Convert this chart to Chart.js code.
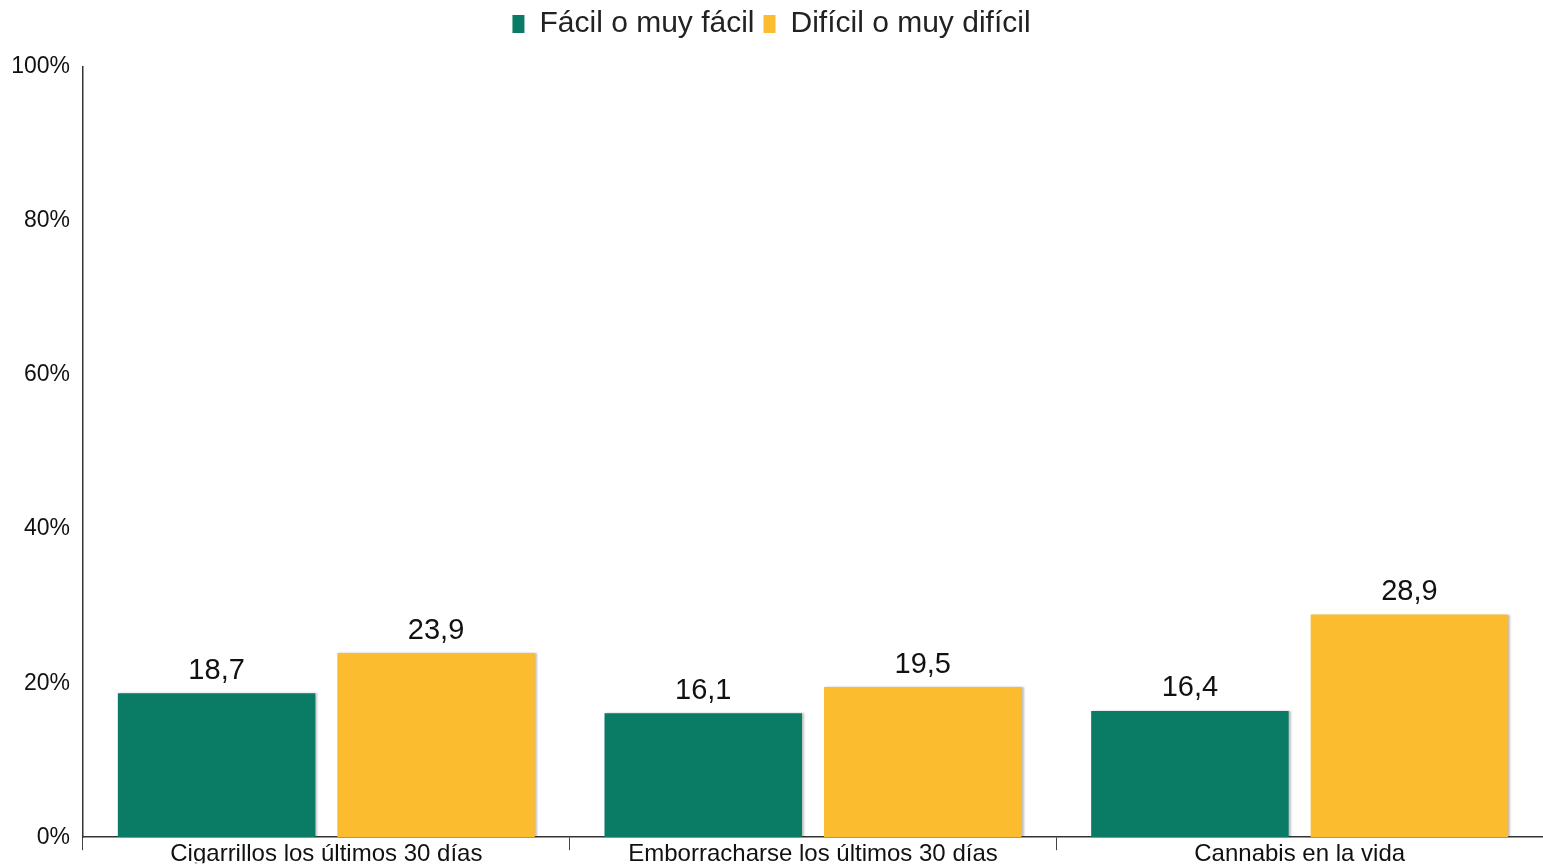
<!DOCTYPE html>
<html>
<head>
<meta charset="utf-8">
<script src="https://cdn.jsdelivr.net/npm/chart.js@4.4.1/dist/chart.umd.min.js"></script>
<style>
  html, body { margin: 0; padding: 0; background: #fff; }
  #wrap { width: 1543px; height: 864px; }
</style>
</head>
<body>
<div id="wrap"><canvas id="chart"></canvas></div>
<script>
const categories = ['Cigarrillos los últimos 30 días', 'Emborracharse los últimos 30 días', 'Cannabis en la vida'];
const facil = [18.7, 16.1, 16.4];
const dificil = [23.9, 19.5, 28.9];
const seriesNames = ['Fácil o muy fácil', 'Difícil o muy difícil'];
const yTicks = [0, 20, 40, 60, 80, 100];

const GREEN = '#0a7c65';
const YELLOW = '#fbbc30';
const FONT = "'Liberation Sans', Arial, sans-serif";

// keep the legend text near the top but push the plot down
const legendHeight = {
    id: 'legendHeight',
    beforeLayout(chart) {
        const lg = chart.legend;
        if (!lg || lg._patched) return;
        const fit = lg.fit;
        lg.fit = function() {
            fit.call(this);
            this.height = 67;
        };
        lg._patched = true;
    }
};

// small shadow on the right side of the bars
const barShadow = {
    id: 'barShadow',
    beforeDatasetsDraw(chart) {
        const ctx = chart.ctx;
        ctx.save();
        ctx.shadowColor = 'rgba(0,0,0,0.25)';
        ctx.shadowOffsetX = 2;
        ctx.shadowOffsetY = 0;
        ctx.shadowBlur = 2;
    },
    afterDatasetsDraw(chart) {
        chart.ctx.restore();
    }
};

// value labels above each bar, comma decimal
const valueLabels = {
    id: 'valueLabels',
    afterDatasetsDraw(chart) {
        const ctx = chart.ctx;
        ctx.save();
        ctx.font = '29px ' + FONT;
        ctx.fillStyle = '#111';
        ctx.textAlign = 'center';
        ctx.textBaseline = 'bottom';
        chart.data.datasets.forEach((ds, i) => {
            chart.getDatasetMeta(i).data.forEach((bar, j) => {
                const txt = ds.data[j].toFixed(1).replace('.', ',');
                ctx.fillText(txt, bar.x, bar.y - 8);
            });
        });
        ctx.restore();
    }
};

const ctx = document.getElementById('chart').getContext('2d');
new Chart(ctx, {
    type: 'bar',
    data: {
        labels: categories,
        datasets: [
            { label: seriesNames[0], data: facil, backgroundColor: GREEN, borderWidth: 0 },
            { label: seriesNames[1], data: dificil, backgroundColor: YELLOW, borderWidth: 0 }
        ]
    },
    options: {
        responsive: true,
        maintainAspectRatio: false,
        animation: false,
        categoryPercentage: 0.902,
        barPercentage: 0.9,
        layout: { padding: 0 },
        plugins: {
            tooltip: { enabled: false },
            legend: {
                position: 'top',
                labels: {
                    font: { family: FONT, size: 30 },
                    color: '#222',
                    boxWidth: 12,
                    boxHeight: 18,
                    padding: 9
                }
            }
        },
        scales: {
            x: {
                afterFit(scale) { scale.height = 26; },
                grid: {
                    display: true,
                    offset: true,
                    drawOnChartArea: false,
                    drawTicks: true,
                    tickLength: 13,
                    color: '#444'
                },
                border: { display: true, color: '#333', width: 1.5 },
                ticks: {
                    padding: -10,
                    color: '#111',
                    font: { family: FONT, size: 24 }
                }
            },
            y: {
                min: 0,
                max: 100,
                afterFit(scale) { scale.width = 83; },
                afterBuildTicks(scale) {
                    scale.ticks = yTicks.map(v => ({ value: v }));
                },
                grid: { display: false, drawTicks: false },
                border: { display: true, color: '#333', width: 1.5 },
                ticks: {
                    padding: 13,
                    color: '#111',
                    font: { family: FONT, size: 23 },
                    callback: v => v + '%'
                }
            }
        }
    },
    plugins: [legendHeight, barShadow, valueLabels]
});
</script>
</body>
</html>
